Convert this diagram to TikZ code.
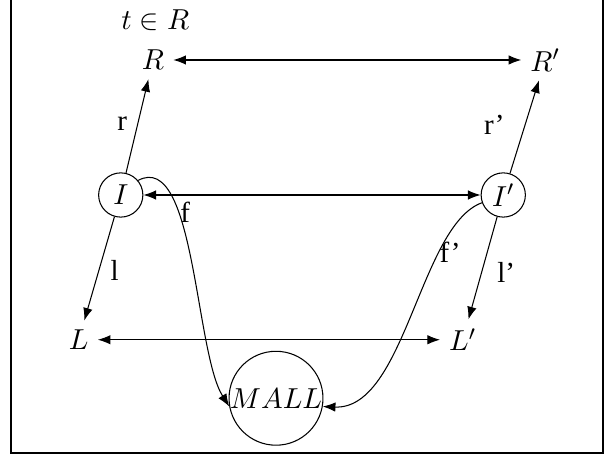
\documentclass[tikz,border=0pt]{standalone}
\usepackage{amsmath, amssymb}
\usepackage{fontspec}
\newfontfamily\labelfont[Ligatures=TeX]{Liberation Serif}
\usepackage{tikz}
\usetikzlibrary{arrows.meta}
\tikzset{
  objnode/.style={inner sep=3.3pt},
  ringnode/.style={draw, circle, inner sep=1pt, minimum size=0.59cm},
  mallnode/.style={draw, circle, inner sep=0pt, minimum size=1.21cm},
  maparrow/.style={->},
  isoarrow/.style={<->},
  maplabel/.style={inner sep=1pt, font=\fontsize{11}{13}\selectfont\labelfont}
}

\begin{document}
\begin{tikzpicture}[>=Latex, every node/.style={font=\fontsize{11}{13}\selectfont}]
  \useasboundingbox (0,0) rectangle (8.12,-6.093);
  % frame (its top edge lies above the page)
  \draw[line width=1pt] (0.147,0.1) -- (0.147,-6.04) -- (8.04,-6.04) -- (8.04,0.1);

  \node[objnode] (title) at (2.07,-0.27) {$t \in R$};
  \node[objnode] (R) at (2.04,-0.8) {$R$};
  \node[objnode] (Rp) at (7.27,-0.8) {$R'$};
  \node[ringnode] (I) at (1.61,-2.6) {$I$};
  \node[ringnode] (Ip) at (6.71,-2.6) {$I'$};
  \node[objnode] (L) at (1.05,-4.53) {$L$};
  \node[objnode] (Lp) at (6.17,-4.53) {$L'$};
  \node[mallnode] (mall) at (3.68,-5.31) {$MALL$};

  \draw[isoarrow] (R) -- (Rp);
  \draw[isoarrow] (I) -- (Ip);
  \draw[isoarrow] (L) -- (Lp);
  \draw[maparrow] (I) -- (R);
  \draw[maparrow] (I) -- (L);
  \draw[maparrow] (Ip) -- (Rp);
  \draw[maparrow] (Ip) -- (Lp);
  \draw[maparrow] (I.40) .. controls (2.6,-2.0) and (2.6,-4.7) .. (mall.190);
  \draw[maparrow] (Ip.200) .. controls (5.6,-3.0) and (5.4,-5.47) .. (mall.350);

  \node[maplabel] (lr) at (1.63,-1.65) {r};
  \node[maplabel] (ll) at (1.53,-3.6) {l};
  \node[maplabel] (lf) at (2.47,-2.83) {f};
  \node[maplabel] (lrp) at (6.59,-1.67) {r'};
  \node[maplabel] (llp) at (6.75,-3.63) {l'};
  \node[maplabel] (lfp) at (6.0,-3.36) {f'};
\end{tikzpicture}
\end{document}
